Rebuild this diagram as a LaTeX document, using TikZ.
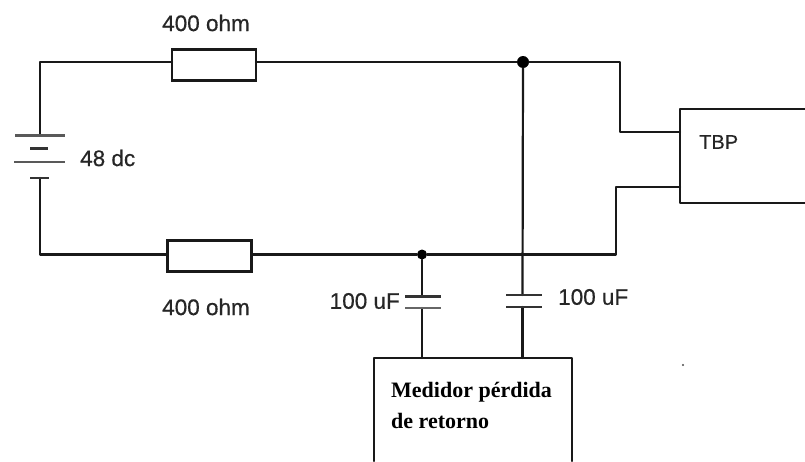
\documentclass[tikz,border=0pt]{standalone}
\usepackage{fontspec}
\setmainfont{Liberation Sans}[FakeBold=0.5]
\newfontfamily\serifbold{Liberation Serif}[Scale=1]
\begin{document}
\begin{tikzpicture}[x=1pt,y=-1pt,
  wire/.style={line width=2.2pt,color=black!90,line cap=round,line join=round},
  plate/.style={line width=2.2pt,color=black!80},
  resistor/.style={draw=black!90,line width=2.6pt,fill=white,minimum width=84pt,minimum height=31pt,inner sep=0pt,outer sep=0pt},
  lbl/.style={font=\fontsize{22.5}{26}\selectfont,text=black!85,inner sep=0pt},
  junction/.style={circle,fill=black,inner sep=0pt,minimum size=12pt},
  smalljunction/.style={circle,fill=black,inner sep=0pt,minimum size=10pt}]
\useasboundingbox (0,0) rectangle (805,461);
\fill[white] (0,0) rectangle (805,461);

% components
\node[resistor] (R1) at (214,65) {};
\node[resistor] (R2) at (209.5,256) {};
\node[junction] (J1) at (523,62) {};
\node[smalljunction] (J2) at (422,254.5) {};

% named points
\coordinate (TL) at (40,62);
\coordinate (BL) at (40,254.5);
\coordinate (BatT) at (40,135);
\coordinate (BatB) at (40,178);
\coordinate (TR) at (620,62);
\coordinate (TRd) at (620,132);
\coordinate (TBPa) at (680,132);
\coordinate (TBPb) at (680,187);
\coordinate (BRu) at (616,187);
\coordinate (BR) at (616,254.5);
\coordinate (C1t) at (422,296.5);
\coordinate (C1b) at (422,308);
\coordinate (C2t) at (522.5,295);
\coordinate (C2b) at (522.5,307);
\coordinate (M1) at (422,358);
\coordinate (M2) at (522.5,358);

% wires
\draw[wire] (BatT) -- (TL) -- (TL -| R1.west);
\draw[wire] (TL -| R1.east) -- (J1) -- (TR) -- (TRd) -- (TBPa);
\draw[wire] (BatB) -- (BL) -- (BL -| R2.west);
\draw[wire] (BL -| R2.east) -- (J2) -- (BR) -- (BRu) -- (TBPb);
\draw[wire] (J2) -- (C1t);
\draw[wire] (C1b) -- (M1);
\draw[wire] (J1) -- (C2t);
\draw[wire] (C2b) -- (M2);

% battery
\draw[plate,color=black!65] (15,135.5) -- (65,135.5);
\draw[plate] (30,148.5) -- (48,148.5);
\draw[plate,color=black!65] (14,162) -- (65,162);
\draw[plate,line width=2.8pt] (30,178) -- (49,178);

% capacitors
\draw[plate,line width=2.8pt] (405,296.5) -- (441,296.5);
\draw[plate,color=black!60] (405,308) -- (441,308);
\draw[plate] (506,295) -- (542,295);
\draw[plate] (506,307) -- (542,307);

% TBP box
\draw[wire] (805,109) -- (680,109) -- (680,203) -- (805,203);
% Medidor box
\draw[wire] (374,461) -- (374,358) -- (572,358) -- (572,461);

% labels
\node[lbl] (L1) at (206,23) {400 ohm};
\node[lbl] (L2) at (206,307) {400 ohm};
\node[lbl,anchor=west] (L3) at (80,158) {48 dc};
\node[lbl,anchor=east] (L4) at (400,301) {100 uF};
\node[lbl,anchor=west] (L5) at (558,297) {100 uF};
\node[lbl,anchor=west,font=\fontsize{20}{24}\selectfont] (L6) at (699,142) {TBP};
\node[anchor=base west,inner sep=0pt,font=\serifbold\fontsize{22}{26}\selectfont\bfseries] (L7) at (391,397) {Medidor pérdida};
\node[anchor=base west,inner sep=0pt,font=\serifbold\fontsize{22}{26}\selectfont\bfseries] (L8) at (391,428) {de retorno};

% speck
\fill[black!70] (683,365) circle (1.2pt);
\end{tikzpicture}
\end{document}
